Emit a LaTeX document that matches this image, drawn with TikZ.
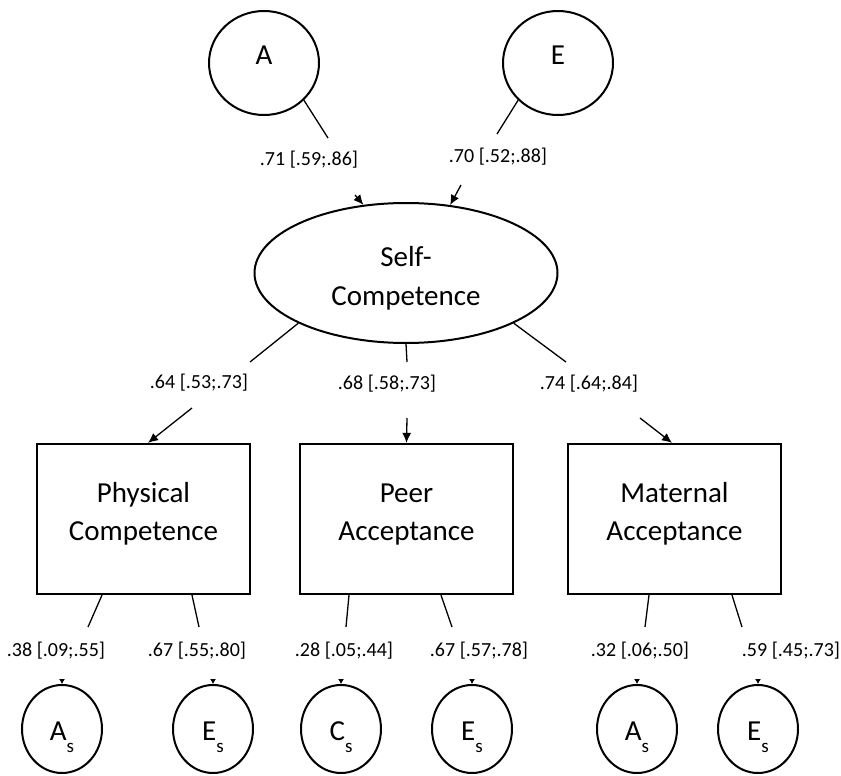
\documentclass[tikz,border=0pt]{standalone}
\usepackage{fontspec}
\setmainfont{Carlito}
\usetikzlibrary{arrows.meta}
\usetikzlibrary{shapes.geometric}

\begin{document}
\begin{tikzpicture}[x=1pt,y=-1pt,
        factor/.style={ellipse, draw, line width=2pt, inner sep=0pt, minimum width=110pt, minimum height=104pt, font=\fontsize{29}{36}\selectfont, text height=4pt, text depth=0pt},
        latent/.style={ellipse, draw, line width=2pt, inner sep=0pt, minimum width=303pt, minimum height=140pt, align=center, font=\fontsize{29}{39}\selectfont, text height=70pt, text depth=6pt},
        measure/.style={rectangle, draw, line width=2.2pt, inner sep=0pt, minimum width=213pt, minimum height=150pt, align=center, font=\fontsize{29}{38}\selectfont, text height=48pt, text depth=6pt},
        specific/.style={ellipse, draw, line width=2pt, inner sep=0pt, minimum width=80pt, minimum height=88pt, font=\fontsize{29}{36}\selectfont, text height=22pt, text depth=0pt},
        coef/.style={inner sep=0pt, font=\fontsize{20}{24}\selectfont},
        load/.style={line width=1.3pt},
        arr/.style={line width=1.3pt, -{Latex[length=10pt,width=9pt]}},
        stub/.style={line width=1pt, -{Latex[length=5pt,width=6pt]}}]
        \def\subvar#1#2{#1\raisebox{-12pt}{\fontsize{19}{19}\selectfont #2}}

        \useasboundingbox (0,0) rectangle (841,776);

        % factors and scales
        \node[factor] (A) at (264,63) {A};
        \node[factor] (E) at (558,63) {E};
        \node[latent] (self) at (406,273) {Self-\\Competence};

        \node[measure] (phys) at (143.5,519) {Physical\\Competence};
        \node[measure] (peer) at (406.5,519) {Peer\\Acceptance};
        \node[measure] (mat) at (674.5,519) {Maternal\\Acceptance};

        \node[specific] (As1) at (62,729) {\subvar{A}{s}};
        \node[specific] (Es1) at (213,729) {\subvar{E}{s}};
        \node[specific] (Cs2) at (341,729) {\subvar{C}{s}};
        \node[specific] (Es2) at (472,729) {\subvar{E}{s}};
        \node[specific] (As3) at (637,729) {\subvar{A}{s}};
        \node[specific] (Es3) at (758,729) {\subvar{E}{s}};

        % A, E -> self-competence
        \coordinate (a1) at (328,138); \coordinate (a2) at (355,195);
        \coordinate (e1) at (497,134); \coordinate (e2) at (461,185);
        \node[coef] (la) at (309,160) {.71 [.59;.86]};
        \node[coef] (le) at (498,157) {.70 [.52;.88]};
        \draw[load] (A.317) -- (a1);
        \draw[arr] (a2) -- (self.122);
        \draw[load] (E.223) -- (e1);
        \draw[arr] (e2) -- (self.57);

        % self-competence -> scales
        \coordinate (s1) at (250,362); \coordinate (s2) at (192,408);
        \coordinate (t1) at (407,362); \coordinate (t2) at (407,418);
        \coordinate (u1) at (566,362); \coordinate (u2) at (640,418);
        \node[coef] (lphys) at (199,383) {.64 [.53;.73]};
        \node[coef] (lpeer) at (387,384) {.68 [.58;.73]};
        \node[coef] (lmat) at (589,384) {.74 [.64;.84]};
        \draw[load] (self.205) -- (s1);
        \draw[arr] (s2) -- ([xshift=4.5pt]phys.north);
        \draw[load] (self.south) -- (t1);
        \draw[arr] (t2) -- (peer.north);
        \draw[load] (self.335) -- (u1);
        \draw[arr] (u2) -- ([xshift=-2.5pt]mat.north);

        % scales -> specific factors
        \coordinate (p1) at (88,627); \coordinate (p2) at (199,627);
        \coordinate (q1) at (346,627); \coordinate (q2) at (452,627);
        \coordinate (r1) at (645,627); \coordinate (r2) at (742,627);
        \draw[load] ([xshift=-41.5pt]phys.south) -- (p1);
        \draw[load] ([xshift=48.5pt]phys.south) -- (p2);
        \draw[load] ([xshift=-57.5pt]peer.south) -- (q1);
        \draw[load] ([xshift=34.5pt]peer.south) -- (q2);
        \draw[load] ([xshift=-25.5pt]mat.south) -- (r1);
        \draw[load] ([xshift=57.5pt]mat.south) -- (r2);
        \node[coef] (l1) at (56,651) {.38 [.09;.55]};
        \node[coef] (l2) at (197,651) {.67 [.55;.80]};
        \node[coef] (l3) at (344,651) {.28 [.05;.44]};
        \node[coef] (l4) at (479,651) {.67 [.57;.78]};
        \node[coef] (l5) at (640,651) {.32 [.06;.50]};
        \node[coef] (l6) at (791,651) {.59 [.45;.73]};
        \foreach \n in {As1,Es1,Cs2,Es2,As3,Es3}
            \draw[stub] ([yshift=5pt]\n.north) -- (\n.north);

    \end{tikzpicture}
\end{document}
